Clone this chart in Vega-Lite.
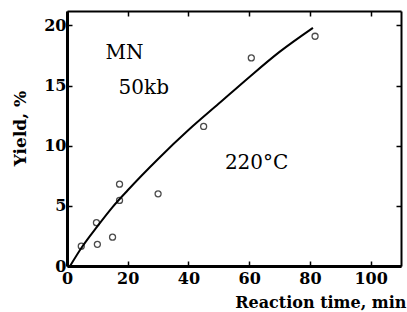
{
  "$schema": "https://vega.github.io/schema/vega-lite/v6.json",
  "autosize": "none",
  "width": 334,
  "height": 255,
  "padding": {"left": 67, "top": 11, "right": 6, "bottom": 46},
  "background": "white",
  "config": {
    "view": {"stroke": null},
    "font": "DejaVu Serif"
  },
  "datasets": {
    "curve": [
      {"t": 1, "yield": 0},
      {"t": 5, "yield": 1.6},
      {"t": 10, "yield": 3.3},
      {"t": 15, "yield": 4.9},
      {"t": 20, "yield": 6.3},
      {"t": 30, "yield": 8.9},
      {"t": 40, "yield": 11.3},
      {"t": 50, "yield": 13.5},
      {"t": 60, "yield": 15.7},
      {"t": 70, "yield": 17.8},
      {"t": 81, "yield": 19.8}
    ],
    "points": [
      {"t": 4.7, "yield": 1.65},
      {"t": 9.7, "yield": 3.6},
      {"t": 10, "yield": 1.8},
      {"t": 15, "yield": 2.4},
      {"t": 17.3, "yield": 6.8},
      {"t": 17.3, "yield": 5.45},
      {"t": 30, "yield": 6.0},
      {"t": 45, "yield": 11.6},
      {"t": 60.7, "yield": 17.3},
      {"t": 81.7, "yield": 19.1}
    ],
    "labels": [
      {"t": 12.7, "yield": 17.7, "label": "MN"},
      {"t": 17, "yield": 14.8, "label": "50kb"},
      {"t": 52, "yield": 8.6, "label": "220°C"}
    ]
  },
  "resolve": {"axis": {"x": "independent", "y": "independent"}},
  "layer": [
    {
      "data": {"name": "curve"},
      "mark": {"type": "line", "color": "black", "strokeWidth": 2, "interpolate": "monotone"},
      "encoding": {
        "x": {
          "field": "t", "type": "quantitative",
          "scale": {"domain": [0, 110], "nice": false, "zero": false},
          "axis": {
            "orient": "bottom",
            "values": [0, 20, 40, 60, 80, 100],
            "title": "Reaction time, min",
            "titleFont": "DejaVu Serif", "titleFontSize": 16, "titleFontWeight": "bold",
            "titleColor": "black",
            "titleAnchor": "end", "titleAlign": "right", "titleBaseline": "middle",
            "titleX": 339, "titleY": 36,
            "labelFont": "DejaVu Serif", "labelFontSize": 16, "labelFontWeight": "bold",
            "labelColor": "black", "labelPadding": 9,
            "domainColor": "black", "domainWidth": 3,
            "tickColor": "black", "tickWidth": 1.5, "tickSize": -5,
            "grid": false, "labelFlush": false
          }
        },
        "y": {
          "field": "yield", "type": "quantitative",
          "scale": {"domain": [0, 21.2], "nice": false, "zero": false},
          "axis": {
            "orient": "left",
            "values": [0, 5, 10, 15, 20],
            "title": "Yield, %",
            "titleFont": "DejaVu Serif", "titleFontSize": 17, "titleFontWeight": "bold",
            "titleColor": "black",
            "titleAnchor": "middle", "titleX": -47, "titleY": 117,
            "titleAngle": -90, "titleBaseline": "middle",
            "labelFont": "DejaVu Serif", "labelFontSize": 16, "labelFontWeight": "bold",
            "labelColor": "black", "labelPadding": 6,
            "domainColor": "black", "domainWidth": 3,
            "tickColor": "black", "tickWidth": 1.5, "tickSize": -5,
            "grid": false, "labelFlush": false
          }
        }
      }
    },
    {
      "data": {"name": "points"},
      "mark": {"type": "point", "shape": "circle", "filled": false, "color": "black", "strokeWidth": 1.3, "size": 36},
      "encoding": {
        "x": {
          "field": "t", "type": "quantitative",
          "axis": {
            "orient": "top", "values": [0, 20, 40, 60, 80, 100],
            "title": null, "labels": false,
            "domainColor": "black", "domainWidth": 2,
            "tickColor": "black", "tickWidth": 1.5, "tickSize": -5, "grid": false
          }
        },
        "y": {
          "field": "yield", "type": "quantitative",
          "axis": {
            "orient": "right", "values": [0, 5, 10, 15, 20],
            "title": null, "labels": false,
            "domainColor": "black", "domainWidth": 2,
            "tickColor": "black", "tickWidth": 1.5, "tickSize": -5, "grid": false
          }
        }
      }
    },
    {
      "data": {"name": "labels"},
      "mark": {"type": "text", "align": "left", "baseline": "middle", "font": "DejaVu Serif", "fontSize": 20, "color": "black"},
      "encoding": {
        "x": {"field": "t", "type": "quantitative", "axis": null},
        "y": {"field": "yield", "type": "quantitative", "axis": null},
        "text": {"field": "label"}
      }
    }
  ]
}
